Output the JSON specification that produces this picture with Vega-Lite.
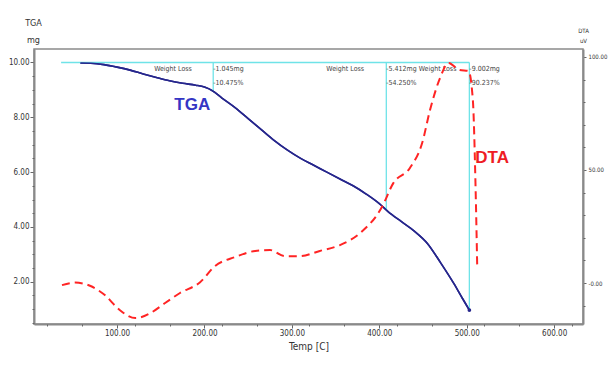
{
  "$schema": "https://vega.github.io/schema/vega-lite/v6.json",
  "width": 549,
  "height": 275,
  "autosize": "none",
  "padding": {"left": 34, "top": 49, "right": 25, "bottom": 47},
  "background": "white",
  "config": {
    "view": {"stroke": "#8a8a8a", "strokeWidth": 1.5},
    "axis": {
      "labelFont": "DejaVu Sans Condensed, Liberation Sans, sans-serif",
      "titleFont": "DejaVu Sans Condensed, Liberation Sans, sans-serif",
      "labelColor": "#333333",
      "titleColor": "#333333",
      "domainColor": "#8a8a8a",
      "domainWidth": 2,
      "tickColor": "#666666",
      "labelFontSize": 8,
      "titleFontWeight": "normal",
      "grid": false
    }
  },
  "datasets": {
    "tga": [
      {"t": 58, "mg": 9.98}, {"t": 70, "mg": 9.97}, {"t": 85, "mg": 9.92}, {"t": 100, "mg": 9.83},
      {"t": 115, "mg": 9.72}, {"t": 130, "mg": 9.58}, {"t": 145, "mg": 9.45}, {"t": 160, "mg": 9.33},
      {"t": 175, "mg": 9.24}, {"t": 190, "mg": 9.17}, {"t": 200, "mg": 9.1}, {"t": 210, "mg": 8.95},
      {"t": 220, "mg": 8.7}, {"t": 235, "mg": 8.35}, {"t": 250, "mg": 7.95}, {"t": 265, "mg": 7.55},
      {"t": 280, "mg": 7.15}, {"t": 295, "mg": 6.8}, {"t": 310, "mg": 6.5}, {"t": 325, "mg": 6.25},
      {"t": 340, "mg": 6.0}, {"t": 355, "mg": 5.75}, {"t": 370, "mg": 5.5}, {"t": 385, "mg": 5.2},
      {"t": 400, "mg": 4.85}, {"t": 410, "mg": 4.56}, {"t": 425, "mg": 4.2}, {"t": 440, "mg": 3.85},
      {"t": 455, "mg": 3.4}, {"t": 470, "mg": 2.7}, {"t": 485, "mg": 1.95}, {"t": 495, "mg": 1.4},
      {"t": 503, "mg": 0.97}
    ],
    "dta": [
      {"t": 37, "dta": -0.9}, {"t": 52, "dta": 0.2}, {"t": 69, "dta": -1.2}, {"t": 86, "dta": -5.3},
      {"t": 103, "dta": -11.9}, {"t": 121, "dta": -15.5}, {"t": 138, "dta": -13.3}, {"t": 155, "dta": -8.8},
      {"t": 172, "dta": -4.4}, {"t": 195, "dta": 0.4}, {"t": 212, "dta": 7.5}, {"t": 235, "dta": 11.5},
      {"t": 258, "dta": 14.2}, {"t": 275, "dta": 14.6}, {"t": 292, "dta": 11.9}, {"t": 309, "dta": 11.9},
      {"t": 332, "dta": 14.2}, {"t": 355, "dta": 16.8}, {"t": 378, "dta": 22.1}, {"t": 403, "dta": 33.6},
      {"t": 416, "dta": 44.2}, {"t": 435, "dta": 50.9}, {"t": 449, "dta": 61.9}, {"t": 458, "dta": 76.5},
      {"t": 470, "dta": 91.2}, {"t": 479, "dta": 97.3}, {"t": 492, "dta": 94.2}, {"t": 502, "dta": 93.8},
      {"t": 507, "dta": 81}, {"t": 510, "dta": 44.2}, {"t": 512, "dta": 7.1}
    ],
    "baseline": [{"t": 36, "t2": 503, "mg": 10.0}],
    "drops": [
      {"t": 210, "mg": 10.0, "mg2": 8.95},
      {"t": 408, "mg": 10.0, "mg2": 4.6},
      {"t": 503, "mg": 10.0, "mg2": 0.97}
    ],
    "wl": [
      {"t": 164, "mg": 9.76, "text": "Weight Loss"},
      {"t": 361, "mg": 9.76, "text": "Weight Loss"}
    ],
    "notes": [
      {"t": 210, "mg": 9.76, "text": "-1.045mg"},
      {"t": 210, "mg": 9.24, "text": "-10.475%"},
      {"t": 408, "mg": 9.76, "text": "-5.412mg Weight Loss"},
      {"t": 408, "mg": 9.24, "text": "-54.250%"},
      {"t": 503, "mg": 9.76, "text": "-9.002mg"},
      {"t": 503, "mg": 9.24, "text": "-90.237%"}
    ],
    "tgaLabel": [{"t": 186, "mg": 8.45, "text": "TGA"}],
    "dtaLabel": [{"t": 529, "dta": 55.3, "text": "DTA"}],
    "endpoint": [{"t": 503, "mg": 0.97}]
  },
  "layer": [
    {
      "layer": [
        {
          "data": {"name": "tga"},
          "mark": {"type": "line", "color": "#26268c", "strokeWidth": 1.6, "interpolate": "monotone"},
          "encoding": {
            "x": {
              "field": "t", "type": "quantitative",
              "scale": {"domain": [5, 633], "nice": false, "zero": false},
              "axis": {
                "title": "Temp [C]",
                "titleFontSize": 10,
                "titlePadding": 4,
                "values": [100, 200, 300, 400, 500, 600],
                "format": ".2f",
                "tickSize": 4,
                "labelPadding": 1
              }
            },
            "y": {
              "field": "mg", "type": "quantitative",
              "scale": {"domain": [0.46, 10.49], "nice": false, "zero": false},
              "axis": {
                "orient": "left",
                "title": ["TGA", "mg"],
                "titleFontSize": 9,
                "titleAngle": 0,
                "titleAlign": "center",
                "titleBaseline": "top",
                "titleX": -1,
                "titleY": -31,
                "titleLineHeight": 17,
                "values": [2, 4, 6, 8, 10],
                "format": ".2f",
                "tickSize": 4,
                "labelPadding": 1
              }
            }
          }
        },
        {
          "data": {"name": "baseline"},
          "mark": {"type": "rule", "color": "#6fe3e8", "strokeWidth": 1.5},
          "encoding": {
            "x": {"field": "t", "type": "quantitative"},
            "x2": {"field": "t2"},
            "y": {
              "field": "mg", "type": "quantitative",
              "axis": {
                "orient": "left",
                "title": null,
                "labels": false,
                "domain": false,
                "tickSize": 2,
                "values": [0.5, 1, 1.5, 2.5, 3, 3.5, 4.5, 5, 5.5, 6.5, 7, 7.5, 8.5, 9, 9.5]
              }
            }
          }
        },
        {
          "data": {"name": "drops"},
          "mark": {"type": "rule", "color": "#6fe3e8", "strokeWidth": 1.3},
          "encoding": {
            "x": {"field": "t", "type": "quantitative"},
            "y": {"field": "mg", "type": "quantitative", "axis": null},
            "y2": {"field": "mg2"}
          }
        },
        {
          "data": {"name": "tga"},
          "mark": {"type": "line", "color": "#26268c", "strokeWidth": 1.6, "interpolate": "monotone"},
          "encoding": {
            "x": {"field": "t", "type": "quantitative"},
            "y": {"field": "mg", "type": "quantitative", "axis": null}
          }
        },
        {
          "data": {"name": "endpoint"},
          "mark": {"type": "point", "filled": true, "color": "#26268c", "size": 14, "opacity": 1},
          "encoding": {
            "x": {"field": "t", "type": "quantitative"},
            "y": {"field": "mg", "type": "quantitative", "axis": null}
          }
        },
        {
          "data": {"name": "wl"},
          "mark": {"type": "text", "font": "DejaVu Sans Condensed, Liberation Sans, sans-serif", "fontSize": 7, "color": "#444444", "align": "center", "baseline": "middle"},
          "encoding": {
            "x": {"field": "t", "type": "quantitative"},
            "y": {"field": "mg", "type": "quantitative", "axis": null},
            "text": {"field": "text"}
          }
        },
        {
          "data": {"name": "notes"},
          "mark": {"type": "text", "font": "DejaVu Sans Condensed, Liberation Sans, sans-serif", "fontSize": 7, "color": "#444444", "align": "left", "baseline": "middle", "dx": 0},
          "encoding": {
            "x": {"field": "t", "type": "quantitative"},
            "y": {"field": "mg", "type": "quantitative", "axis": null},
            "text": {"field": "text"}
          }
        },
        {
          "data": {"name": "tgaLabel"},
          "mark": {"type": "text", "font": "Liberation Sans", "fontSize": 17, "fontWeight": "bold", "color": "#3535c4", "align": "center", "baseline": "middle"},
          "encoding": {
            "x": {"field": "t", "type": "quantitative"},
            "y": {"field": "mg", "type": "quantitative", "axis": null},
            "text": {"field": "text"}
          }
        }
      ],
      "resolve": {"axis": {"y": "independent"}}
    },
    {
      "layer": [
        {
          "data": {"name": "dta"},
          "mark": {"type": "line", "color": "#ff2424", "strokeWidth": 2, "strokeDash": [8, 5], "interpolate": "monotone"},
          "encoding": {
            "x": {
              "field": "t", "type": "quantitative",
              "axis": {
                "orient": "bottom",
                "title": null,
                "labels": false,
                "domain": false,
                "tickSize": 2,
                "values": [20, 40, 60, 80, 120, 140, 160, 180, 220, 240, 260, 280, 320, 340, 360, 380, 420, 440, 460, 480, 520, 540, 560, 580, 620]
              }
            },
            "y": {
              "field": "dta", "type": "quantitative",
              "scale": {"domain": [-18.1, 103.5], "nice": false, "zero": false},
              "axis": {
                "orient": "right",
                "title": ["DTA", "uV"],
                "titleFontSize": 6,
                "titleAngle": 0,
                "titleAlign": "center",
                "titleBaseline": "top",
                "titleX": 0,
                "titleY": -22,
                "titleLineHeight": 10,
                "values": [0, 50, 100],
                "labelExpr": "datum.value === 0 ? '-0.00' : format(datum.value, '.2f')",
                "tickSize": 3,
                "labelFontSize": 6,
                "labelPadding": 2
              }
            }
          }
        },
        {
          "data": {"name": "dtaLabel"},
          "mark": {"type": "text", "font": "Liberation Sans", "fontSize": 17, "fontWeight": "bold", "color": "#ee1c24", "align": "center", "baseline": "middle"},
          "encoding": {
            "x": {"field": "t", "type": "quantitative"},
            "y": {
              "field": "dta", "type": "quantitative",
              "axis": {
                "orient": "right",
                "title": null,
                "labels": false,
                "domain": false,
                "tickSize": 2,
                "values": [-10, 10, 20, 30, 40, 60, 70, 80, 90]
              }
            },
            "text": {"field": "text"}
          }
        }
      ],
      "resolve": {"axis": {"y": "independent"}}
    }
  ],
  "resolve": {"scale": {"y": "independent"}, "axis": {"y": "independent", "x": "independent"}}
}
